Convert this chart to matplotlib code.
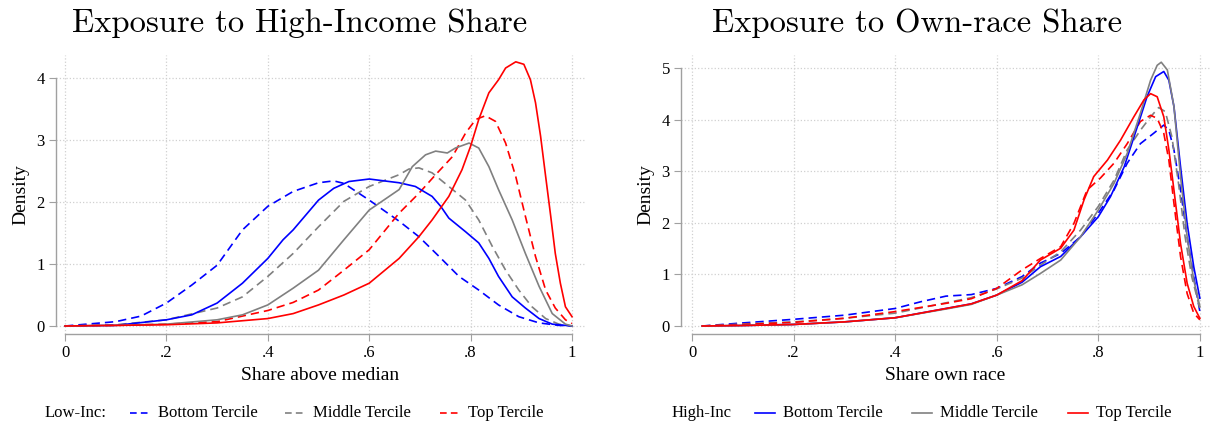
import matplotlib.pyplot as plt
from matplotlib.lines import Line2D

plt.rcParams['font.family'] = ['Liberation Serif', 'DejaVu Serif']

# ---- Left panel: share above median (density)
inc_x_bot_lo = [0.0, 0.1, 0.15, 0.2, 0.25, 0.3, 0.35, 0.4, 0.45, 0.5, 0.53, 0.55, 0.6, 0.659, 0.698, 0.738, 0.777, 0.816, 0.855, 0.895, 0.935, 0.974, 1.0]
inc_y_bot_lo = [0.0, 0.07, 0.16, 0.37, 0.66, 0.98, 1.55, 1.93, 2.17, 2.31, 2.34, 2.30, 2.03, 1.69, 1.44, 1.12, 0.80, 0.58, 0.34, 0.15, 0.05, 0.01, 0.0]
inc_x_mid_lo = [0.0, 0.1, 0.2, 0.3, 0.35, 0.4, 0.45, 0.5, 0.55, 0.6, 0.659, 0.678, 0.698, 0.724, 0.757, 0.79, 0.816, 0.843, 0.869, 0.895, 0.921, 0.948, 0.974, 1.0]
inc_y_mid_lo = [0.0, 0.02, 0.10, 0.29, 0.47, 0.80, 1.17, 1.60, 2.01, 2.25, 2.44, 2.53, 2.55, 2.47, 2.25, 2.03, 1.71, 1.28, 0.90, 0.58, 0.31, 0.12, 0.03, 0.0]
inc_x_top_lo = [0.0, 0.1, 0.2, 0.3, 0.4, 0.45, 0.5, 0.55, 0.6, 0.659, 0.698, 0.731, 0.764, 0.79, 0.81, 0.829, 0.849, 0.869, 0.889, 0.908, 0.928, 0.948, 0.967, 0.987, 1.0]
inc_y_top_lo = [0.0, 0.01, 0.03, 0.07, 0.25, 0.38, 0.58, 0.90, 1.23, 1.82, 2.14, 2.44, 2.73, 3.11, 3.33, 3.39, 3.30, 2.95, 2.41, 1.77, 1.12, 0.58, 0.29, 0.10, 0.04]

inc_x_bot_hi = [0.0, 0.1, 0.2, 0.25, 0.3, 0.35, 0.4, 0.43, 0.45, 0.5, 0.53, 0.56, 0.6, 0.659, 0.691, 0.724, 0.741, 0.757, 0.79, 0.816, 0.836, 0.855, 0.882, 0.908, 0.935, 0.961, 1.0]
inc_y_bot_hi = [0.0, 0.01, 0.10, 0.18, 0.37, 0.69, 1.09, 1.39, 1.55, 2.03, 2.22, 2.33, 2.37, 2.31, 2.25, 2.09, 1.93, 1.74, 1.52, 1.34, 1.09, 0.80, 0.47, 0.29, 0.12, 0.03, 0.0]
inc_x_mid_hi = [0.0, 0.1, 0.2, 0.3, 0.35, 0.4, 0.45, 0.5, 0.55, 0.6, 0.659, 0.685, 0.711, 0.731, 0.754, 0.77, 0.797, 0.816, 0.836, 0.855, 0.882, 0.908, 0.935, 0.961, 0.987, 1.0]
inc_y_mid_hi = [0.0, 0.01, 0.03, 0.10, 0.18, 0.34, 0.61, 0.90, 1.39, 1.87, 2.20, 2.57, 2.76, 2.82, 2.79, 2.87, 2.95, 2.87, 2.57, 2.20, 1.71, 1.17, 0.64, 0.20, 0.03, 0.0]
inc_x_top_hi = [0.0, 0.1, 0.2, 0.3, 0.4, 0.45, 0.5, 0.55, 0.6, 0.659, 0.698, 0.724, 0.757, 0.783, 0.8, 0.816, 0.836, 0.855, 0.869, 0.889, 0.905, 0.918, 0.928, 0.938, 0.948, 0.958, 0.967, 0.977, 0.987, 1.0]
inc_y_top_hi = [0.0, 0.01, 0.02, 0.05, 0.12, 0.20, 0.34, 0.50, 0.69, 1.09, 1.44, 1.71, 2.09, 2.52, 2.90, 3.33, 3.76, 3.97, 4.16, 4.26, 4.22, 3.97, 3.60, 3.06, 2.41, 1.77, 1.17, 0.69, 0.31, 0.15]

# ---- Right panel: share own race
race_x_bot_lo = [0.02, 0.1, 0.2, 0.3, 0.4, 0.45, 0.5, 0.55, 0.6, 0.65, 0.686, 0.726, 0.765, 0.8, 0.831, 0.857, 0.883, 0.909, 0.929, 0.939, 0.949, 0.962, 0.975, 0.988, 1.0]
race_y_bot_lo = [0.0, 0.06, 0.13, 0.21, 0.34, 0.47, 0.58, 0.61, 0.73, 0.96, 1.22, 1.41, 1.73, 2.19, 2.64, 3.16, 3.54, 3.74, 3.90, 3.80, 3.42, 2.64, 1.73, 0.96, 0.28]
race_x_mid_lo = [0.02, 0.1, 0.2, 0.3, 0.4, 0.5, 0.55, 0.6, 0.65, 0.686, 0.726, 0.765, 0.8, 0.831, 0.857, 0.883, 0.903, 0.919, 0.932, 0.945, 0.958, 0.971, 0.984, 1.0]
race_y_mid_lo = [0.0, 0.04, 0.08, 0.15, 0.25, 0.45, 0.55, 0.72, 0.93, 1.18, 1.44, 1.86, 2.32, 2.83, 3.42, 3.80, 4.06, 4.24, 4.16, 3.67, 2.77, 1.73, 0.96, 0.34]
race_x_top_lo = [0.02, 0.1, 0.2, 0.3, 0.4, 0.5, 0.55, 0.6, 0.65, 0.686, 0.726, 0.752, 0.778, 0.804, 0.831, 0.857, 0.883, 0.903, 0.916, 0.929, 0.939, 0.949, 0.962, 0.975, 0.988, 1.0]
race_y_top_lo = [0.0, 0.03, 0.07, 0.15, 0.28, 0.44, 0.53, 0.73, 1.09, 1.31, 1.54, 1.99, 2.64, 2.87, 3.16, 3.54, 3.97, 4.09, 4.03, 3.74, 3.22, 2.38, 1.35, 0.63, 0.25, 0.12]

race_x_bot_hi = [0.02, 0.1, 0.2, 0.3, 0.4, 0.5, 0.55, 0.6, 0.65, 0.686, 0.726, 0.765, 0.8, 0.824, 0.851, 0.877, 0.896, 0.913, 0.929, 0.939, 0.949, 0.962, 0.975, 0.988, 1.0]
race_y_bot_hi = [0.0, 0.01, 0.03, 0.08, 0.16, 0.34, 0.43, 0.60, 0.85, 1.15, 1.35, 1.73, 2.12, 2.51, 3.09, 3.87, 4.45, 4.84, 4.94, 4.77, 4.26, 3.09, 1.99, 1.15, 0.54]
race_x_mid_hi = [0.02, 0.1, 0.2, 0.3, 0.4, 0.5, 0.55, 0.6, 0.65, 0.686, 0.726, 0.765, 0.8, 0.831, 0.857, 0.883, 0.903, 0.916, 0.924, 0.936, 0.949, 0.962, 0.975, 0.988, 1.0]
race_y_mid_hi = [0.0, 0.01, 0.03, 0.08, 0.16, 0.33, 0.42, 0.60, 0.80, 1.02, 1.28, 1.73, 2.25, 2.77, 3.35, 4.13, 4.77, 5.06, 5.12, 4.97, 4.26, 2.90, 1.73, 0.89, 0.38]
race_x_top_hi = [0.02, 0.1, 0.2, 0.3, 0.4, 0.5, 0.55, 0.6, 0.65, 0.686, 0.726, 0.752, 0.772, 0.791, 0.818, 0.844, 0.87, 0.89, 0.903, 0.916, 0.929, 0.939, 0.949, 0.962, 0.975, 0.988, 1.0]
race_y_top_hi = [0.0, 0.01, 0.03, 0.08, 0.16, 0.34, 0.43, 0.60, 0.88, 1.28, 1.51, 1.86, 2.45, 2.90, 3.22, 3.61, 4.06, 4.39, 4.51, 4.45, 4.06, 3.42, 2.64, 1.60, 0.83, 0.38, 0.15]

terciles = ['Bottom Tercile', 'Middle Tercile', 'Top Tercile']
colors = ['#0000ff', '#808080', '#ff0000']
x_ticks = [0, 0.2, 0.4, 0.6, 0.8, 1.0]
x_labels = ['0', '.2', '.4', '.6', '.8', '1']

W, H = 1211, 428
fig = plt.figure(figsize=(W / 100, H / 100), dpi=100)


def px_axes(left, right, top, bottom):
    return fig.add_axes([left / W, 1 - bottom / H, (right - left) / W, (bottom - top) / H])


def style(ax, yticks):
    for s in ['top', 'right']:
        ax.spines[s].set_visible(False)
    for s in ['left', 'bottom']:
        ax.spines[s].set_color('#a0a0a0')
        ax.spines[s].set_linewidth(1.0)
    ax.spines['bottom'].set_bounds(0, 1)
    ax.spines['left'].set_bounds(yticks[0], yticks[-1])
    ax.set_xticks(x_ticks)
    ax.set_xticklabels(x_labels)
    ax.set_yticks(yticks)
    ax.tick_params(direction='out', length=5, color='#a0a0a0', labelsize=12, pad=3)
    ax.grid(True, linestyle=':', color='#d0d0d0', linewidth=0.9)
    ax.set_axisbelow(True)
    ax.set_ylabel('Density', fontsize=14, labelpad=5)


# left panel
ax1 = px_axes(56, 585, 55, 334)
ax1.set_xlim(-0.0178, 1.0256)
ax1.set_ylim(-0.129, 4.37)
lo_inc = [(inc_x_bot_lo, inc_y_bot_lo), (inc_x_mid_lo, inc_y_mid_lo), (inc_x_top_lo, inc_y_top_lo)]
hi_inc = [(inc_x_bot_hi, inc_y_bot_hi), (inc_x_mid_hi, inc_y_mid_hi), (inc_x_top_hi, inc_y_top_hi)]
for (x, y), c in zip(lo_inc, colors):
    ax1.plot(x, y, color=c, lw=1.2, dashes=(5, 3))
for (x, y), c in zip(hi_inc, colors):
    ax1.plot(x, y, color=c, lw=1.2)
style(ax1, [0, 1, 2, 3, 4])
ax1.set_xlabel('Share above median', fontsize=14, labelpad=4)

# right panel
ax2 = px_axes(681, 1210, 55, 334)
ax2.set_xlim(-0.0217, 1.02)
ax2.set_ylim(-0.155, 5.26)
lo_race = [(race_x_bot_lo, race_y_bot_lo), (race_x_mid_lo, race_y_mid_lo), (race_x_top_lo, race_y_top_lo)]
hi_race = [(race_x_bot_hi, race_y_bot_hi), (race_x_mid_hi, race_y_mid_hi), (race_x_top_hi, race_y_top_hi)]
for (x, y), c in zip(lo_race, colors):
    ax2.plot(x, y, color=c, lw=1.2, dashes=(5, 3))
for (x, y), c in zip(hi_race, colors):
    ax2.plot(x, y, color=c, lw=1.2)
style(ax2, [0, 1, 2, 3, 4, 5])
ax2.set_xlabel('Share own race', fontsize=14, labelpad=4)

# titles (LaTeX-like serif)
fig.text(300 / W, 1 - 32 / H, 'Exposure to High-Income Share', ha='center', va='baseline',
         fontsize=23.5, family='cmr10')
fig.text(917 / W, 1 - 32 / H, 'Exposure to Own-race Share', ha='center', va='baseline',
         fontsize=23.5, family='cmr10')


# legends drawn by hand to match spacing
def legend_row(title, x_title, x_handles, dashed):
    y = 1 - 413 / H
    fig.text(x_title / W, y, title, ha='left', va='center', fontsize=12)
    for xh, c, lab in zip(x_handles, colors, terciles):
        kw = dict(dashes=(4, 2.5)) if dashed else {}
        fig.add_artist(Line2D([xh / W, (xh + 20) / W], [y, y], transform=fig.transFigure,
                              color=c, lw=1.2, **kw))
        fig.text((xh + 28) / W, y, lab, ha='left', va='center', fontsize=12)


legend_row('Low-Inc:', 45, [130, 285, 440], True)
legend_row('High-Inc', 672, [755, 912, 1068], False)

fig.savefig('out.png', dpi=100)
